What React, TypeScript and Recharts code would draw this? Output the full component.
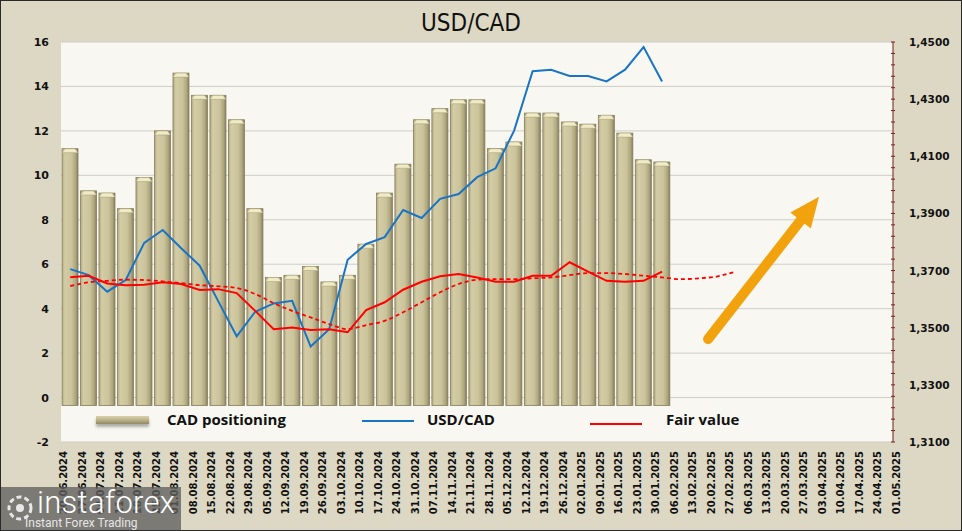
import {
  ComposedChart,
  Bar,
  Line,
  XAxis,
  YAxis,
  CartesianGrid,
  Legend,
  ReferenceLine,
} from "recharts";

// weekly dates on the axis
const weeks = [
  "20.06.2024", "27.06.2024", "04.07.2024", "11.07.2024", "18.07.2024", "25.07.2024",
  "01.08.2024", "08.08.2024", "15.08.2024", "22.08.2024", "29.08.2024", "05.09.2024",
  "12.09.2024", "19.09.2024", "26.09.2024", "03.10.2024", "10.10.2024", "17.10.2024",
  "24.10.2024", "31.10.2024", "07.11.2024", "14.11.2024", "21.11.2024", "28.11.2024",
  "05.12.2024", "12.12.2024", "19.12.2024", "26.12.2024", "02.01.2025", "09.01.2025",
  "16.01.2025", "23.01.2025", "30.01.2025", "06.02.2025", "13.02.2025", "20.02.2025",
  "27.02.2025", "06.03.2025", "13.03.2025", "20.03.2025", "27.03.2025", "03.04.2025",
  "10.04.2025", "17.04.2025", "24.04.2025", "01.05.2025",
];

const cadPositioning = [
  11.2, 9.3, 9.2, 8.5, 9.9, 12.0, 14.6, 13.6, 13.6, 12.5, 8.5, 5.4, 5.5, 5.9, 5.2, 5.5,
  6.9, 9.2, 10.5, 12.5, 13.0, 13.4, 13.4, 11.2, 11.5, 12.8, 12.8, 12.4, 12.3, 12.7, 11.9,
  10.7, 10.6,
];

const usdCad = [
  1.3705, 1.3684, 1.3626, 1.3667, 1.3797, 1.3842, 1.3778, 1.3717, 1.3593, 1.347, 1.3556,
  1.3585, 1.3594, 1.3434, 1.3495, 1.3738, 1.3793, 1.3817, 1.3912, 1.3884, 1.3951, 1.3968,
  1.4027, 1.4058, 1.419, 1.4398, 1.4403, 1.4381, 1.4381, 1.4362, 1.4403, 1.4482, 1.4362,
];

const fairValue = [
  1.3677, 1.3682, 1.3655, 1.3649, 1.365, 1.3659, 1.3653, 1.3632, 1.3635, 1.3621, 1.3559,
  1.3495, 1.3501, 1.3492, 1.3495, 1.3484, 1.3562, 1.3589, 1.3633, 1.3661, 1.368, 1.3688,
  1.3676, 1.3661, 1.3661, 1.3682, 1.3682, 1.3729, 1.3696, 1.3664, 1.3661, 1.3664, 1.3696,
];

// dashed trend of the fair value, runs a bit past the last week
const fairValueTrend = [
  1.3646, 1.3659, 1.3664, 1.3668, 1.3667, 1.3662, 1.3656, 1.3649, 1.3645, 1.3639, 1.3618,
  1.3586, 1.3559, 1.3536, 1.3513, 1.3495, 1.3509, 1.3524, 1.3554, 1.3589, 1.3624, 1.3653,
  1.3668, 1.367, 1.367, 1.3673, 1.3676, 1.3684, 1.3691, 1.3691, 1.3688, 1.3682, 1.3676,
  1.367, 1.3673, 1.368, 1.3697,
];

const leftTicks = [-2, 0, 2, 4, 6, 8, 10, 12, 14, 16];
const rightTicks = [1.31, 1.33, 1.35, 1.37, 1.39, 1.41, 1.43, 1.45];
// four small marks between the labelled ones
const rightAllTicks = rightTicks.flatMap((t, i) =>
  i === rightTicks.length - 1 ? [t] : [0, 1, 2, 3, 4].map((k) => +(t + k * 0.004).toFixed(3)),
);

const legendOrder = ["CAD positioning", "USD/CAD", "Fair value"];

const data = weeks.map((week, i) => ({
  week,
  cad: cadPositioning[i],
  usd: usdCad[i],
  fair: fairValue[i],
  trend: fairValueTrend[i],
}));

const AXIS_FONT = "'DejaVu Sans', Verdana, sans-serif";

function Bar3D(props: any) {
  const { x, y, width, height } = props;
  if (height == null || width == null) return null;
  const h = height + 8; // bars sit on a floor slightly under zero
  return (
    <g>
      <rect x={x} y={y} width={width} height={h} fill="url(#barFace)" stroke="#857e5c" strokeWidth={0.8} />
      <polygon
        points={`${x},${y + 4} ${x + 3},${y} ${x + width - 3},${y} ${x + width},${y + 4}`}
        fill="#f1ebc6"
        stroke="#a59e78"
        strokeWidth={0.5}
      />
    </g>
  );
}

function LeftTick({ x, y, payload }: any) {
  return (
    <text x={x - 10} y={y} dy={4} textAnchor="end" fontFamily={AXIS_FONT} fontWeight="bold" fontSize={11} fill="#111">
      {payload.value}
    </text>
  );
}

function RightTick({ x, y, payload }: any) {
  const major = rightTicks.some((t) => Math.abs(t - payload.value) < 1e-6);
  return (
    <g>
      <line x1={x - 4} x2={x} y1={y} y2={y} stroke="#7a1d1d" />
      {major && (
        <text x={x + 14} y={y} dy={4} textAnchor="start" fontFamily={AXIS_FONT} fontWeight="bold" fontSize={10.5} fill="#111">
          {payload.value.toFixed(4).replace(".", ",")}
        </text>
      )}
    </g>
  );
}

function DateTick({ x, y, payload }: any) {
  return (
    <text
      transform={`translate(${x},${y + 7}) rotate(-90)`}
      dy={-3}
      textAnchor="end"
      fontFamily={AXIS_FONT}
      fontWeight="bold"
      fontSize={10}
      fill="#111"
    >
      {payload.value}
    </text>
  );
}

function Arrow(props: any) {
  const { x1, y1, x2, y2 } = props;
  if (x1 == null) return null;
  const sx = x1 + 9;
  const tx = x2 + 9;
  const len = Math.hypot(tx - sx, y2 - y1);
  const ux = (tx - sx) / len;
  const uy = (y2 - y1) / len;
  const bx = tx - ux * 30;
  const by = y2 - uy * 30;
  const nx = -uy * 13;
  const ny = ux * 13;
  return (
    <g>
      <line x1={sx} y1={y1} x2={bx + ux * 2} y2={by + uy * 2} stroke="#f2a20c" strokeWidth={10} strokeLinecap="round" />
      <polygon points={`${tx},${y2} ${bx + nx},${by + ny} ${bx - nx},${by - ny}`} fill="#f2a20c" />
    </g>
  );
}

const swatchLeft = [96, 362, 590];
const swatchTop = [10, 14, 17];
const textLeft = [167, 427, 666];

function LegendBox({ payload }: any) {
  const list = payload || [];
  const items = legendOrder
    .map((name) => list.find((p: any) => p.value === name))
    .filter(Boolean);
  return (
    <div style={{ position: "relative", width: 962, height: 30 }}>
      {items.map((p: any, i: number) => (
        <div key={p.value}>
          {i === 0 ? (
            <div
              style={{
                position: "absolute",
                left: swatchLeft[i],
                top: swatchTop[i],
                width: 53,
                height: 8,
                background: "linear-gradient(#d9d2ab, #b3ab83 60%, #8f8862)",
                boxShadow: "0 3px 3px rgba(0,0,0,0.3)",
              }}
            />
          ) : (
            <div
              style={{
                position: "absolute",
                left: swatchLeft[i],
                top: swatchTop[i],
                width: 52,
                height: 2,
                background: p.color,
              }}
            />
          )}
          <span
            style={{
              position: "absolute",
              left: textLeft[i],
              top: 3,
              fontFamily: "'Open Sans', Lato, sans-serif",
              fontWeight: 700,
              fontSize: 15,
              color: "#111",
              whiteSpace: "nowrap",
            }}
          >
            {p.value}
          </span>
        </div>
      ))}
    </div>
  );
}

export default function App() {
  return (
    <div
      style={{
        position: "fixed",
        left: 0,
        top: 0,
        width: 962,
        height: 531,
        background: "#ddd8c3",
        boxSizing: "border-box",
        border: "1px solid #2a2a2a",
        overflow: "hidden",
      }}
    >
      <div
        style={{
          position: "absolute",
          left: 0,
          width: 940,
          top: 8,
          textAlign: "center",
          fontFamily: "'Liberation Sans Narrow', 'DejaVu Sans Condensed', 'Liberation Sans', sans-serif",
          fontSize: 24,
          color: "#111",
        }}
      >
        USD/CAD
      </div>
      <div style={{ position: "absolute", left: -1, top: -1 }}>
        <ComposedChart width={962} height={531} data={data} margin={{ top: 42, right: 0, bottom: 0, left: 0 }}>
          <defs>
            <linearGradient id="barFace" x1="0" y1="0" x2="1" y2="0">
              <stop offset="0%" stopColor="#b1a981" />
              <stop offset="18%" stopColor="#d4cca5" />
              <stop offset="60%" stopColor="#cbc39a" />
              <stop offset="85%" stopColor="#aea67e" />
              <stop offset="100%" stopColor="#857e5b" />
            </linearGradient>
          </defs>
          <CartesianGrid yAxisId="left" vertical={false} stroke="#cfcdc6" fill="#f8f7f2" />
          <XAxis
            dataKey="week"
            interval={0}
            height={89}
            padding={{ left: 0, right: -18.75 }}
            axisLine={false}
            tickLine={false}
            tickSize={0}
            tick={<DateTick />}
          />
          <YAxis
            yAxisId="left"
            domain={[-2, 16]}
            ticks={leftTicks}
            width={61}
            axisLine={false}
            tickLine={false}
            tickSize={0}
            tick={<LeftTick />}
          />
          <YAxis
            yAxisId="right"
            orientation="right"
            domain={[1.31, 1.45]}
            ticks={rightAllTicks}
            interval={0}
            width={69}
            axisLine={{ stroke: "#7a1d1d" }}
            tickLine={false}
            tickSize={0}
            tick={<RightTick />}
          />
          <Legend
            layout="horizontal"
            verticalAlign="middle"
            align="center"
            wrapperStyle={{ top: 406, left: 0, width: 962 }}
            content={<LegendBox />}
          />
          <Bar
            yAxisId="left"
            dataKey="cad"
            name="CAD positioning"
            fill="#cbc39a"
            barSize={16}
            shape={<Bar3D />}
            isAnimationActive={false}
          />
          <Line
            yAxisId="right"
            dataKey="usd"
            name="USD/CAD"
            stroke="#1a74c4"
            strokeWidth={2}
            dot={false}
            type="linear"
            isAnimationActive={false}
          />
          <Line
            yAxisId="right"
            dataKey="fair"
            name="Fair value"
            stroke="#ff0000"
            strokeWidth={2}
            dot={false}
            type="linear"
            isAnimationActive={false}
          />
          <Line
            yAxisId="right"
            dataKey="trend"
            name="Fair value trend"
            legendType="none"
            stroke="#ff0000"
            strokeWidth={1.8}
            strokeDasharray="4 3"
            dot={false}
            type="monotone"
            isAnimationActive={false}
          />
          <ReferenceLine
            yAxisId="right"
            segment={[
              { x: weeks[34], y: 1.346 },
              { x: weeks[40], y: 1.3958 },
            ]}
            shape={<Arrow />}
          />
        </ComposedChart>
      </div>
      <div
        style={{
          position: "absolute",
          left: 0,
          top: 486,
          width: 180,
          height: 45,
          background: "rgba(95,95,95,0.78)",
          color: "#fff",
          fontFamily: "Roboto, 'Open Sans', sans-serif",
        }}
      >
        <svg width={30} height={30} style={{ position: "absolute", left: 4, top: 6 }}>
          <circle cx={15} cy={15} r={11} fill="none" stroke="#e8e8e8" strokeWidth={3} strokeDasharray="5 3" />
          <circle cx={15} cy={15} r={4} fill="#e8e8e8" />
        </svg>
        <div style={{ position: "absolute", left: 36, top: -3, fontSize: 31, fontWeight: 300, letterSpacing: 0.3 }}>
          instaforex
        </div>
        <div style={{ position: "absolute", left: 24, top: 29, fontSize: 12, color: "#e6e6e6" }}>
          Instant Forex Trading
        </div>
      </div>
    </div>
  );
}
